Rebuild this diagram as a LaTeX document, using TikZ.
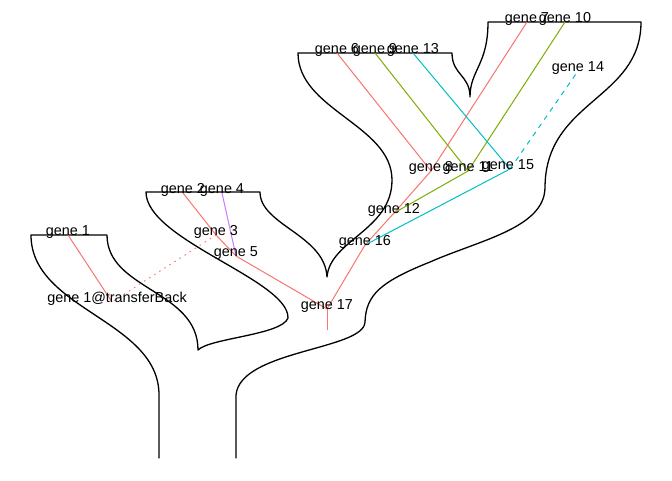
\documentclass[tikz,border=0pt]{standalone}
\usepackage{fontspec}
\setmainfont{Liberation Sans}
\definecolor{genred}{HTML}{F8766D}
\definecolor{gengreen}{HTML}{7CAE00}
\definecolor{gencyan}{HTML}{00BFC4}
\definecolor{genpurple}{HTML}{C77CFF}
\begin{document}
\begin{tikzpicture}[x=1pt,y=-1pt,
  lbl/.style={anchor=base, inner sep=0pt, text=black, font=\fontsize{14.4}{16}\selectfont},
  tube/.style={draw=black, line width=1.3pt, line join=round, line cap=round},
  edge/.style={line width=1pt},
  redge/.style={edge, draw=genred},
  gedge/.style={edge, draw=gengreen},
  cedge/.style={edge, draw=gencyan},
  pedge/.style={edge, draw=genpurple},
  transfer/.style={edge, draw=genred, dash pattern=on 1.4pt off 4.6pt},
  lost/.style={edge, draw=gencyan, dash pattern=on 5pt off 5pt}]

\fill[white] (0,0) rectangle (672,480);
\useasboundingbox (0,0) rectangle (672,480);

% species tree outline
\draw[tube] (159,458) -- (159,395)
  .. controls (159,320) and (31,310) .. (31,235)
  -- (107,235)
  .. controls (107,290) and (198,290) .. (198,350)
  .. controls (210,338) and (282,335) .. (288,318)
  .. controls (289,280) and (146,240) .. (146,192)
  -- (260,192)
  .. controls (260,225) and (325,235) .. (327,277)
  .. controls (330,240) and (392,230) .. (392,180)
  .. controls (392,125) and (298,110) .. (298,53)
  -- (452,53)
  .. controls (452,75) and (470,75) .. (470,97)
  .. controls (470,70) and (488,65) .. (488,22)
  -- (641,22)
  .. controls (641,100) and (545,100) .. (545,188)
  .. controls (544,228) and (480,240) .. (430,262)
  .. controls (380,282) and (366,295) .. (365,322)
  .. controls (364,350) and (240,350) .. (236,395)
  -- (236,458);

% gene tree nodes
\coordinate (n1)  at (68,235);
\coordinate (n1b) at (112,302);
\coordinate (n2)  at (183,193);
\coordinate (n4)  at (222,193);
\coordinate (n3)  at (216,235);
\coordinate (n5)  at (236,256);
\coordinate (n17) at (327,309);
\coordinate (nroot) at (327,330);
\coordinate (n16) at (365,245);
\coordinate (n12) at (394,213);
\coordinate (n8)  at (431,171);
\coordinate (n11) at (468,171);
\coordinate (n15) at (510,169);
\coordinate (n6)  at (337,53);
\coordinate (n9)  at (375,53);
\coordinate (n13) at (413,53);
\coordinate (n7)  at (527,22);
\coordinate (n10) at (565,22);
\coordinate (n14) at (578,71);

% gene tree edges
\draw[redge] (n1) -- (n1b);
\draw[transfer] (n3) -- (n1b);
\draw[redge] (n2) -- (n3);
\draw[redge] (n3) -- (n5);
\draw[pedge] (n4) -- (n5);
\draw[redge] (n5) -- (n17);
\draw[redge] (n17) -- (nroot);
\draw[redge] (n17) -- (n16);
\draw[redge] (n16) -- (n12);
\draw[redge] (n12) -- (n8);
\draw[redge] (n8) -- (n6);
\draw[redge] (n8) -- (n7);
\draw[gedge] (n12) -- (n11);
\draw[gedge] (n11) -- (n9);
\draw[gedge] (n11) -- (n10);
\draw[cedge] (n16) -- (n15);
\draw[cedge] (n15) -- (n13);
\draw[lost] (n15) -- (n14);

% labels
\node[lbl] (l1)  at (n1)  {gene 1};
\node[lbl, xshift=5pt] (l1b) at (n1b) {gene 1@transferBack};
\node[lbl] (l2)  at (n2)  {gene 2};
\node[lbl] (l4)  at (n4)  {gene 4};
\node[lbl] (l3)  at (n3)  {gene 3};
\node[lbl] (l5)  at (n5)  {gene 5};
\node[lbl] (l17) at (n17) {gene 17};
\node[lbl] (l16) at (n16) {gene 16};
\node[lbl] (l12) at (n12) {gene 12};
\node[lbl] (l8)  at (n8)  {gene 8};
\node[lbl] (l11) at (n11) {gene 11};
\node[lbl, xshift=-2pt] (l15) at (n15) {gene 15};
\node[lbl] (l6)  at (n6)  {gene 6};
\node[lbl] (l9)  at (n9)  {gene 9};
\node[lbl] (l13) at (n13) {gene 13};
\node[lbl] (l7)  at (n7)  {gene 7};
\node[lbl] (l10) at (n10) {gene 10};
\node[lbl] (l14) at (n14) {gene 14};
\end{tikzpicture}
\end{document}
